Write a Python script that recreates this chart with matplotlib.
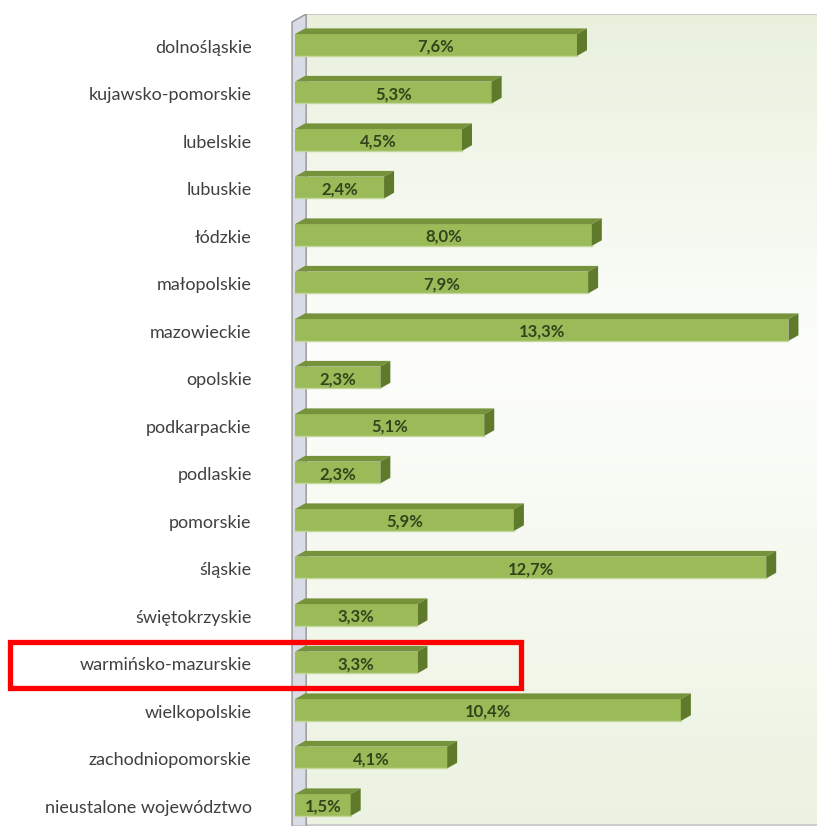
import numpy as np
import matplotlib.pyplot as plt
from matplotlib.patches import Polygon, Rectangle
from matplotlib.transforms import blended_transform_factory

plt.rcParams['font.family'] = ['Lato', 'DejaVu Sans']

# dane: udział województw (%)
wojewodztwa = ['dolnośląskie', 'kujawsko-pomorskie', 'lubelskie', 'lubuskie',
               'łódzkie', 'małopolskie', 'mazowieckie', 'opolskie',
               'podkarpackie', 'podlaskie', 'pomorskie', 'śląskie',
               'świętokrzyskie', 'warmińsko-mazurskie', 'wielkopolskie',
               'zachodniopomorskie', 'nieustalone województwo']
udzial = [7.6, 5.3, 4.5, 2.4, 8.0, 7.9, 13.3, 2.3, 5.1, 2.3, 5.9, 12.7,
          3.3, 3.3, 10.4, 4.1, 1.5]
wyrozniony = 'warmińsko-mazurskie'

fig = plt.figure(figsize=(8.17, 8.28), dpi=100)
ax = fig.add_axes([285 / 817, 1 - 827.4 / 828, 532 / 817, (827.4 - 15) / 828])
ax.set_facecolor('none')
xmin, xmax = -0.27, 14.07
ytop, ybot = -0.653, 16.45
ax.set_xlim(xmin, xmax)
ax.set_ylim(ybot, ytop)

# tlo z gradientem
wall_back = 0.30
top_c = np.array([0.914, 0.945, 0.867])
mid_c = np.array([0.992, 0.996, 0.988])
bot_c = np.array([0.925, 0.952, 0.882])
t = np.linspace(0, 1, 200)
cols = np.where(t[:, None] < 0.42,
                top_c + (mid_c - top_c) * (t[:, None] / 0.42),
                mid_c + (bot_c - mid_c) * ((t[:, None] - 0.42) / 0.58))
img = np.repeat(cols[:, None, :], 2, axis=1)
ax.imshow(img, extent=(wall_back, xmax, ybot, ytop), aspect='auto', zorder=0)
ax.plot([wall_back, xmax], [ytop, ytop], color='#cccccc', lw=1.5, zorder=1)
ax.plot([wall_back, xmax], [ybot - 0.02, ybot - 0.02], color='#cccccc', lw=1.5, zorder=1)

# sciana boczna
wall_front = -0.08
wall = Polygon([(wall_front, ybot), (wall_front, -0.484), (wall_back, ytop),
                (wall_back, ybot)], closed=True, facecolor='#d9dce7',
               edgecolor='#939393', lw=1.0, zorder=1)
ax.add_patch(wall)

# slupki 3D
y = np.arange(len(wojewodztwa))
h = 0.46
dx, dy = 0.27, 0.12
ax.barh(y, udzial, height=h, left=0, color='#9bbb59', edgecolor='none', zorder=3)
for yi, v in zip(y, udzial):
    top = yi - h / 2
    bot = yi + h / 2
    ax.add_patch(Polygon([(0, top), (v, top), (v + dx, top - dy), (dx, top - dy)],
                         closed=True, facecolor='#76923b', edgecolor='none', zorder=3))
    ax.add_patch(Polygon([(v, top), (v + dx, top - dy), (v + dx, bot - dy), (v, bot)],
                         closed=True, facecolor='#5f7a2b', edgecolor='none', zorder=3))
    ax.plot([0, v], [bot, bot], color='#c3d69b', lw=1, zorder=4)
    ax.text(v / 2, yi + 0.02, f'{v:.1f}%'.replace('.', ','), ha='center', va='center',
            fontsize=12, fontweight='bold', color='#33441c', zorder=5)

ax.set_yticks(y)
ax.set_yticklabels(wojewodztwa, fontsize=13, color='#404040')
ax.tick_params(axis='y', length=0, pad=24)
ax.set_xticks([])
for s in ax.spines.values():
    s.set_visible(False)

# ramka wyroznienia
idx = wojewodztwa.index(wyrozniony)
tr = blended_transform_factory(fig.transFigure, ax.transData)
ax.add_patch(Rectangle((10 / 817, idx + 0.54), 511 / 817, -0.97, transform=tr,
                       fill=False, edgecolor='#ff0000', lw=3.8, clip_on=False, zorder=6))

fig.savefig('out.png', dpi=100)
